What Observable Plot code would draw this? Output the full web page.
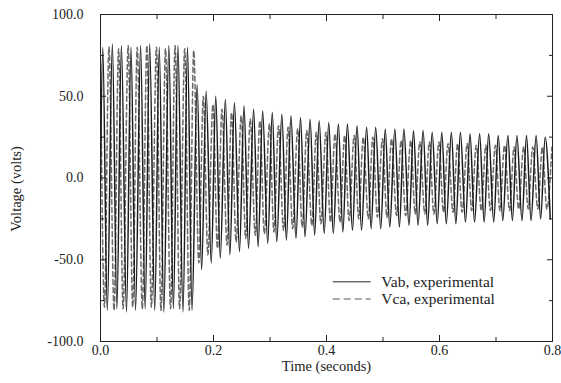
<!DOCTYPE html>
<html><head><meta charset="utf-8">
<script src="https://cdn.jsdelivr.net/npm/d3@7"></script>
<script src="https://cdn.jsdelivr.net/npm/@observablehq/plot@0.6"></script>
<style>body{margin:0;background:#fff}</style>
</head><body><div id="chart"></div>
<script>
const xTicks = [0, 0.2, 0.4, 0.6, 0.8];
const xMinorTicks = [0.1, 0.3, 0.5, 0.7];
const yTicks = [-100, -50, 0, 50, 100];
const yMinorTicks = [-75, -25, 25, 75];

// Peak times (s) and peak voltages (V)
const vabTime = [0.000,
0.004,0.012,0.021,0.029,0.037,0.046,0.054,0.062,0.071,0.079,
0.087,0.096,0.104,0.112,0.121,0.129,0.137,0.146,0.154,0.162,
0.171,0.179,0.187,0.196,0.204,0.212,0.221,0.229,0.237,0.246,
0.254,0.262,0.271,0.279,0.287,0.296,0.304,0.312,0.321,0.329,
0.337,0.346,0.354,0.362,0.371,0.379,0.387,0.396,0.404,0.412,
0.421,0.429,0.437,0.446,0.454,0.462,0.471,0.479,0.487,0.496,
0.504,0.512,0.521,0.529,0.537,0.546,0.554,0.562,0.571,0.579,
0.587,0.596,0.604,0.612,0.621,0.629,0.637,0.646,0.654,0.662,
0.671,0.679,0.687,0.696,0.704,0.712,0.721,0.729,0.737,0.746,
0.754,0.762,0.771,0.779,0.787,0.796];
const vabVolt = [0,
80,-81,82,-80,81,-82,80,-81,81,-80,
82,-81,80,-82,81,-80,81,-82,80,-81,
57,-56,53,-52,50,-49,48,-47,46,-45,
44,-43,42,-42,41,-40,40,-39,39,-38,
38,-37,37,-36,36,-35,35,-34,34,-34,
33,-33,33,-32,32,-32,31,-31,31,-31,
30,-30,30,-30,30,-29,29,-29,29,-29,
28,-28,28,-28,28,-28,28,-27,27,-27,
27,-27,27,-27,26,-26,26,-26,26,-26,
26,-26,26,-25,25,-25];

const vcaTime = [0.000,
0.007,0.015,0.024,0.032,0.040,0.049,0.057,0.065,0.074,0.082,
0.090,0.099,0.107,0.115,0.124,0.132,0.140,0.149,0.157,0.165,
0.174,0.182,0.190,0.199,0.207,0.215,0.224,0.232,0.240,0.249,
0.257,0.265,0.274,0.282,0.290,0.299,0.307,0.315,0.324,0.332,
0.340,0.349,0.357,0.365,0.374,0.382,0.390,0.399,0.407,0.415,
0.424,0.432,0.440,0.449,0.457,0.465,0.474,0.482,0.490,0.499,
0.507,0.515,0.524,0.532,0.540,0.549,0.557,0.565,0.574,0.582,
0.590,0.599,0.607,0.615,0.624,0.632,0.640,0.649,0.657,0.665,
0.674,0.682,0.690,0.699,0.707,0.715,0.724,0.732,0.740,0.749,
0.757,0.765,0.774,0.782,0.790,0.799];
const vcaVolt = [70,
-79,80,-81,79,-80,81,-79,80,-80,81,
-79,80,-81,79,-80,81,-80,79,-81,78,
-52,50,-47,45,-43,42,-41,40,-39,38,
-37,36,-35,35,-34,33,-33,32,-32,31,
-31,30,-30,29,-29,28,-28,28,-27,27,
-27,26,-26,26,-25,25,-25,25,-24,24,
-24,24,-23,23,-23,23,-22,22,-22,22,
-22,22,-21,21,-21,21,-21,21,-20,20,
-20,20,-20,20,-20,20,-20,19,-19,19,
-19,19,-19,19,-19,19];

const legendLabels = ["Vab, experimental", "Vca, experimental"];
const legendY = [-63.5, -74];

const vab = vabTime.map((t, i) => ({t, v: vabVolt[i]}));
const vca = vcaTime.map((t, i) => ({t, v: vcaVolt[i]}));
const legend = legendLabels.map((label, i) => ({label, y: legendY[i], x1: 0.412, x2: 0.479, xt: 0.497}));

const serif = "Liberation Serif";
const chart = Plot.plot({
  width: 561, height: 383,
  marginLeft: 100, marginRight: 9, marginTop: 14, marginBottom: 42,
  style: {fontFamily: serif, fontSize: "14px", color: "#222", background: "#fff"},
  x: {domain: [0, 0.8]},
  y: {domain: [-100, 100]},
  marks: [
    Plot.line(vca, {x: "t", y: "v", stroke: "#6a6a6a", strokeWidth: 1.5, strokeDasharray: "5,3", curve: "monotone-x", clip: true}),
    Plot.line(vab, {x: "t", y: "v", stroke: "#1c1c1c", strokeWidth: 1.5, curve: "monotone-x", clip: true}),
    Plot.frame({stroke: "#222"}),
    Plot.axisX(xTicks, {anchor: "bottom", tickSize: 0, tickPadding: 4, tickFormat: d => d.toFixed(1), label: null, fontSize: 14}),
    Plot.axisX(xTicks, {anchor: "bottom", tickSize: -6, tickFormat: () => "", label: null}),
    Plot.axisX(xMinorTicks, {anchor: "bottom", tickSize: -4, tickFormat: () => "", label: null}),
    Plot.axisX(xTicks, {anchor: "top", tickSize: -6, tickFormat: () => "", label: null}),
    Plot.axisX(xMinorTicks, {anchor: "top", tickSize: -4, tickFormat: () => "", label: null}),
    Plot.axisY(yTicks, {anchor: "left", tickSize: 0, tickPadding: 17, tickFormat: d => d.toFixed(1), label: null, fontSize: 14}),
    Plot.axisY(yTicks, {anchor: "left", tickSize: -6, tickFormat: () => "", label: null}),
    Plot.axisY(yMinorTicks, {anchor: "left", tickSize: -4, tickFormat: () => "", label: null}),
    Plot.axisY(yTicks, {anchor: "right", tickSize: -6, tickFormat: () => "", label: null}),
    Plot.axisY(yMinorTicks, {anchor: "right", tickSize: -4, tickFormat: () => "", label: null}),
    Plot.text(["Time (seconds)"], {text: d => d, frameAnchor: "bottom", dy: 29, fontSize: 14.5}),
    Plot.text(["Voltage (volts)"], {text: d => d, frameAnchor: "left", textAnchor: "middle", dx: -84, dy: 11, rotate: -90, fontSize: 14.5}),
    Plot.ruleY(legend.filter(d => d.label.startsWith("Vab")), {y: "y", x1: "x1", x2: "x2", stroke: "#222"}),
    Plot.ruleY(legend.filter(d => d.label.startsWith("Vca")), {y: "y", x1: "x1", x2: "x2", stroke: "#555", strokeDasharray: "7,4"}),
    Plot.text(legend, {x: "xt", y: "y", text: "label", textAnchor: "start", fontSize: 15.5, fill: "#222"})
  ]
});
document.getElementById("chart").appendChild(chart);
</script>
</body></html>
